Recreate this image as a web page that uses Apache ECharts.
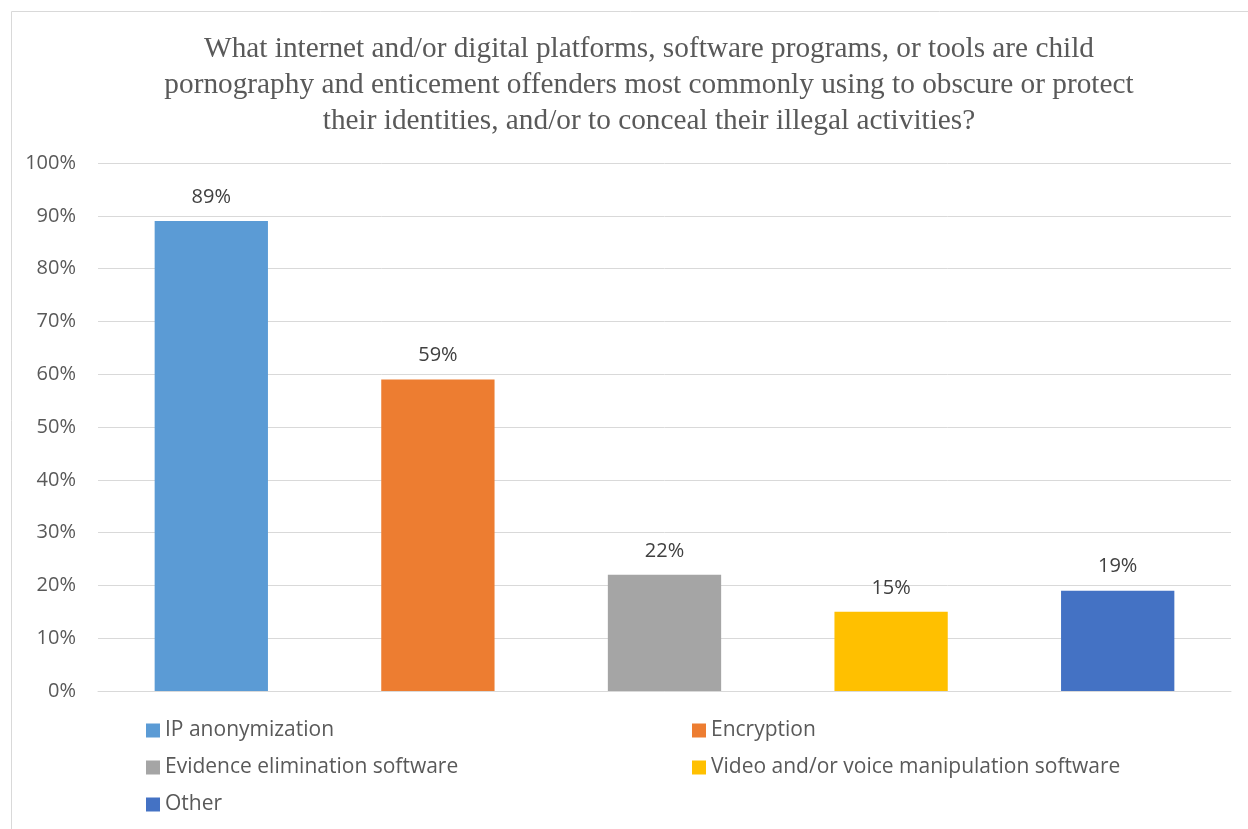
<!DOCTYPE html>
<html>
<head>
<meta charset="utf-8">
<script src="https://cdn.jsdelivr.net/npm/echarts@6/dist/echarts.min.js"></script>
<style>
html,body{margin:0;padding:0;background:#fff;}
#chart{width:1248px;height:829px;}
</style>
</head>
<body>
<div id="chart"></div>
<script>
const titleText = "What internet and/or digital platforms, software programs, or tools are child\npornography and enticement offenders most commonly using to obscure or protect\ntheir identities, and/or to conceal their illegal activities?";
const categories = ["IP anonymization", "Encryption", "Evidence elimination software", "Video and/or voice manipulation software", "Other"];
const values = [89, 59, 22, 15, 19];
const colors = ["#5B9BD5", "#ED7D31", "#A5A5A5", "#FFC000", "#4472C4"];
const yTicks = { min: 0, max: 100, interval: 10 };

const chart = echarts.init(document.getElementById('chart'));
const series = categories.map((name, i) => ({
  name: name,
  type: 'bar',
  stack: 'all',
  barWidth: '50%',
  data: categories.map((c, j) => j === i ? values[i] : '-'),
  itemStyle: { color: colors[i] },
  label: {
    show: true,
    position: 'top',
    distance: 14,
    formatter: '{c}%',
    color: '#404040',
    fontSize: 20,
    fontFamily: 'Open Sans'
  }
}));
const legendText = { color: '#595959', fontSize: 21, lineHeight: 20, fontFamily: 'Open Sans' };
chart.setOption({
  animation: false,
  graphic: [{
    type: 'rect',
    shape: { x: 11.5, y: 11.5, width: 1300, height: 900 },
    style: { fill: 'none', stroke: '#D9D9D9', lineWidth: 1 },
    silent: true
  }],
  title: {
    text: titleText,
    left: 644,
    textAlign: 'center',
    top: 26,
    textStyle: {
      fontFamily: 'Liberation Serif',
      fontWeight: 'normal',
      fontSize: 29.3,
      lineHeight: 36,
      color: '#595959'
    }
  },
  legend: [{
    data: [categories[0], categories[2], categories[4]],
    orient: 'vertical',
    left: 141,
    top: 715,
    itemWidth: 14,
    itemHeight: 14,
    itemGap: 16,
    icon: 'rect',
    textStyle: legendText
  }, {
    data: [categories[1], categories[3]],
    orient: 'vertical',
    left: 687,
    top: 715,
    itemWidth: 14,
    itemHeight: 14,
    itemGap: 16,
    icon: 'rect',
    textStyle: legendText
  }],
  grid: { left: 98, right: 17, top: 163, bottom: 138 },
  xAxis: {
    type: 'category',
    data: categories,
    axisLabel: { show: false },
    axisTick: { show: false },
    axisLine: { show: true, lineStyle: { color: '#D9D9D9', width: 1 } }
  },
  yAxis: {
    type: 'value',
    min: yTicks.min,
    max: yTicks.max,
    interval: yTicks.interval,
    axisLabel: {
      formatter: '{value}%',
      color: '#595959',
      fontSize: 20,
      fontFamily: 'Open Sans',
      margin: 22
    },
    axisLine: { show: false },
    axisTick: { show: false },
    splitLine: { lineStyle: { color: '#D9D9D9', width: 1 } }
  },
  series: series
});
</script>
</body>
</html>
